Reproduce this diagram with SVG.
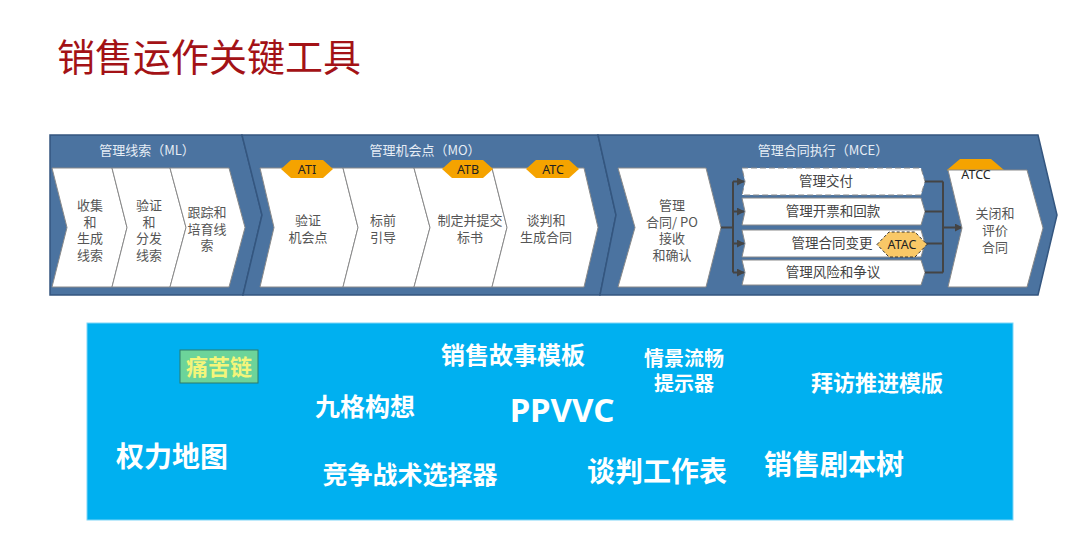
<svg xmlns="http://www.w3.org/2000/svg" width="1080" height="560" viewBox="0 0 1080 560">
<defs>
<style>
.cn{font-family:"Noto Sans CJK SC","Noto Sans",sans-serif}
.sec{fill:#4b73a0;stroke:#34567f;stroke-width:1.5}
.hd{font-family:"Noto Sans CJK SC",sans-serif;font-size:13px;fill:#e6edf5;text-anchor:middle}
.box{fill:#ffffff;stroke:#8a8a8a;stroke-width:1}
.nt{font-family:"Noto Sans CJK SC",sans-serif;font-size:13px;fill:#555555;text-anchor:middle}
.tag{fill:#f5a300}
.tt{font-family:"Noto Sans","Noto Sans CJK SC",sans-serif;font-size:12.5px;fill:#222;text-anchor:middle}
.bar{fill:#ffffff;stroke:#8a8a8a;stroke-width:1}
.bt{font-family:"Noto Sans CJK SC",sans-serif;font-size:13.5px;fill:#444;text-anchor:middle}
.ln{stroke:#444;stroke-width:2;fill:none}
.tool{font-family:"Noto Sans CJK SC","Noto Sans",sans-serif;font-weight:bold;fill:#ffffff;text-anchor:middle}
</style>
<marker id="ar" viewBox="0 0 10 10" refX="9" refY="5" markerWidth="4" markerHeight="4" orient="auto" markerUnits="strokeWidth">
<path d="M0,0 L10,5 L0,10 z" fill="#444"/>
</marker>
</defs>
<rect width="1080" height="560" fill="#ffffff"/>
<text class="cn" x="57" y="71" font-size="38" fill="#a31216">销售运作关键工具</text>

<g id="sections">
<polygon class="sec" points="50,135 242,135 262,215 243,295 50,295"/>
<polygon class="sec" points="242,135 598,135 616,215 600,295 243,295 262,215"/>
<polygon class="sec" points="598,135 1038,135 1057,215 1038,295 600,295 616,215"/>
<text class="hd" x="147" y="155">管理线索（ML）</text>
<text class="hd" x="425" y="155">管理机会点（MO）</text>
<text class="hd" x="823" y="155">管理合同执行（MCE）</text>
</g>

<g id="ml1"><polygon class="box" points="52,168 112,168 127,227.5 112,287 52,287 67,227.5"/>
<text class="nt"><tspan x="90" y="210">收集</tspan><tspan x="90" y="226.5">和</tspan><tspan x="90" y="243">生成</tspan><tspan x="90" y="259.5">线索</tspan></text></g>
<g id="ml2"><polygon class="box" points="112,168 170,168 186,227.5 170,287 112,287 127,227.5"/>
<text class="nt"><tspan x="149" y="210">验证</tspan><tspan x="149" y="226.5">和</tspan><tspan x="149" y="243">分发</tspan><tspan x="149" y="259.5">线索</tspan></text></g>
<g id="ml3"><polygon class="box" points="170,168 229,168 245,227.5 229,287 170,287 186,227.5"/>
<text class="nt"><tspan x="207" y="217">跟踪和</tspan><tspan x="207" y="233.5">培育线</tspan><tspan x="207" y="250">索</tspan></text></g>

<g id="mo1"><polygon class="box" points="260,168 343,168 358,227.5 343,287 260,287 274,227.5"/>
<text class="nt"><tspan x="308" y="225">验证</tspan><tspan x="308" y="242">机会点</tspan></text></g>
<g id="mo2"><polygon class="box" points="343,168 414,168 430,227.5 414,287 343,287 358,227.5"/>
<text class="nt"><tspan x="383" y="225">标前</tspan><tspan x="383" y="242">引导</tspan></text></g>
<g id="mo3"><polygon class="box" points="414,168 492,168 507,227.5 492,287 414,287 430,227.5"/>
<text class="nt"><tspan x="470" y="225">制定并提交</tspan><tspan x="470" y="242">标书</tspan></text></g>
<g id="mo4"><polygon class="box" points="492,168 584,168 598,227.5 584,287 492,287 507,227.5"/>
<text class="nt"><tspan x="546" y="225">谈判和</tspan><tspan x="546" y="242">生成合同</tspan></text></g>

<g id="tag-ati"><polygon class="tag" points="281,169 291,160 323,160 333,169 323,178 291,178"/><text class="tt" x="307" y="174">ATI</text></g>
<g id="tag-atb"><polygon class="tag" points="442,169 452,160 483,160 493,169 483,178 452,178"/><text class="tt" x="468" y="174">ATB</text></g>
<g id="tag-atc"><polygon class="tag" points="526,169 536,160 569,160 579,169 569,178 536,178"/><text class="tt" x="553" y="174">ATC</text></g>

<g id="mce1"><polygon class="box" points="618,168 706,168 721,227.5 706,287 618,287 635,227.5"/>
<text class="nt"><tspan x="672" y="210">管理</tspan><tspan x="672" y="226.5">合同/ PO</tspan><tspan x="672" y="243">接收</tspan><tspan x="672" y="259.5">和确认</tspan></text></g>

<g id="bar1"><polygon class="bar" points="742,168 921,168 925,181.5 921,195 742,195 745,181.5" stroke="#444" stroke-width="1.6" stroke-dasharray="6 3"/><text class="bt" x="826" y="186">管理交付</text></g>
<g id="bar2"><polygon class="bar" points="742,198 921,198 925,211.5 921,225 742,225 745,211.5"/><text class="bt" x="833" y="216">管理开票和回款</text></g>
<g id="bar3"><polygon class="bar" points="742,230 921,230 925,243.5 921,257 742,257 745,243.5"/><text class="bt" x="832" y="248">管理合同变更</text></g>
<g id="bar4"><polygon class="bar" points="742,260 921,260 925,272.5 921,285 742,285 745,272.5"/><text class="bt" x="833" y="277">管理风险和争议</text></g>

<g id="connectors">
<path class="ln" d="M721,227.5 H733 M733,181.5 V272.5"/>
<path class="ln" d="M733,181.5 H744" marker-end="url(#ar)"/>
<path class="ln" d="M733,211.5 H744" marker-end="url(#ar)"/>
<path class="ln" d="M733,243.5 H744" marker-end="url(#ar)"/>
<path class="ln" d="M733,272.5 H744" marker-end="url(#ar)"/>
<path class="ln" d="M925,181.5 H943 M925,211.5 H943 M925,243.5 H943 M925,272.5 H943 M943,181.5 V272.5"/>
<path class="ln" d="M943,227.5 H962" marker-end="url(#ar)"/>
</g>

<g id="tag-atac"><polygon points="877,244.5 889,232 915,232 927,244.5 915,257 889,257" fill="#f9c867" stroke="#333" stroke-width="1" stroke-dasharray="3 2"/><text class="tt" x="902" y="249" font-size="11">ATAC</text></g>

<g id="mce-close"><polygon class="tag" points="947,170 960,159 991,159 1004,170 991,181 960,181"/>
<polygon class="box" points="948,170 1027,170 1043,228 1027,287 948,287 962,228"/>
<text class="tt" x="976" y="178.5" font-size="13">ATCC</text>
<text class="nt"><tspan x="995" y="218">关闭和</tspan><tspan x="995" y="235">评价</tspan><tspan x="995" y="252">合同</tspan></text></g>

<g id="tools">
<rect x="87" y="323" width="926" height="197" fill="#00b0f0" stroke="#7fd6f7" stroke-width="1"/>
<rect x="180" y="350" width="78" height="33" fill="#6cd49a" stroke="#2d7a6a" stroke-width="1"/>
<text class="tool" x="219" y="375" font-size="22" style="fill:#f4f57a">痛苦链</text>
<text class="tool" x="513" y="364" font-size="24">销售故事模板</text>
<text class="tool" x="684" y="366" font-size="20">情景流畅</text>
<text class="tool" x="684" y="391" font-size="20">提示器</text>
<text class="tool" x="877" y="391" font-size="22">拜访推进模版</text>
<text class="tool" x="365" y="416" font-size="25">九格构想</text>
<text class="tool" x="562" y="422" font-size="33" style="font-family:'Noto Sans','Open Sans',sans-serif">PPVVC</text>
<text class="tool" x="172" y="467" font-size="28">权力地图</text>
<text class="tool" x="410" y="484" font-size="25">竞争战术选择器</text>
<text class="tool" x="657" y="482" font-size="28">谈判工作表</text>
<text class="tool" x="834" y="475" font-size="28">销售剧本树</text>
</g>
</svg>
